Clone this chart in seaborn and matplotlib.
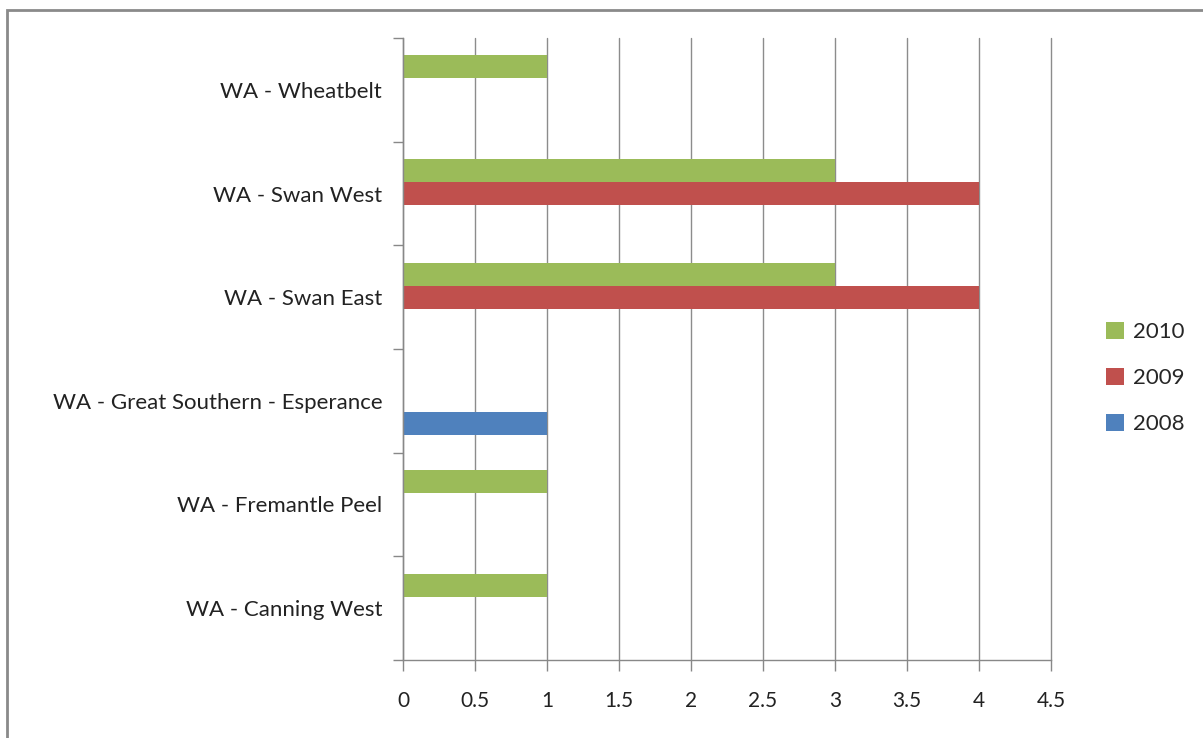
import matplotlib
matplotlib.use("Agg")
import matplotlib.pyplot as plt
import seaborn as sns
import pandas as pd
from matplotlib.patches import Rectangle, Patch

categories = ["WA - Wheatbelt", "WA - Swan West", "WA - Swan East",
              "WA - Great Southern - Esperance", "WA - Fremantle Peel",
              "WA - Canning West"]
series = ["2010", "2009", "2008"]
values_2010 = [1, 3, 3, 0, 1, 1]
values_2009 = [0, 4, 4, 0, 0, 0]
values_2008 = [0, 0, 0, 1, 0, 0]
colors = {"2010": "#9BBB59", "2009": "#C0504D", "2008": "#4F81BD"}
x_ticks = [0, 0.5, 1, 1.5, 2, 2.5, 3, 3.5, 4, 4.5]
x_tick_labels = ["0", "0.5", "1", "1.5", "2", "2.5", "3", "3.5", "4", "4.5"]

rows = []
for name, vals in zip(series, [values_2010, values_2009, values_2008]):
    for c, v in zip(categories, vals):
        rows.append({"category": c, "year": name, "value": v})
df = pd.DataFrame(rows)

sns.set_theme(style="white")
plt.rcParams["font.family"] = ["Lato", "DejaVu Sans"]

fig = plt.figure(figsize=(12.03, 7.38), dpi=100)
ax = fig.add_axes([403/1203, 1 - 660/738, (1051-403)/1203, (660-38)/738])

sns.barplot(data=df, y="category", x="value", hue="year", order=categories,
            hue_order=series, palette=colors, orient="h", width=0.667,
            linewidth=0, saturation=1, gap=0, ax=ax, legend=False)

ax.set_xlim(0, 4.5)
ax.set_ylim(len(categories) - 0.5, -0.5)
ax.set_xticks(x_ticks)
ax.set_xticklabels(x_tick_labels, fontsize=15, color="#222222")
ax.set_yticks([i - 0.5 for i in range(len(categories) + 1)], minor=False)
ax.set_yticklabels([])
ax.set_yticks(range(len(categories)), minor=True)
ax.set_yticklabels(categories, minor=True, fontsize=16, color="#222222")
ax.tick_params(axis="y", which="major", length=7, width=1, color="#888888", left=True, direction="out")
ax.tick_params(axis="y", which="minor", length=0, pad=15)
ax.tick_params(axis="x", length=8, width=1, color="#888888", bottom=True, direction="out", pad=14)
ax.set_xlabel("")
ax.set_ylabel("")
ax.grid(axis="x", color="#8c8c8c", linewidth=1)
ax.grid(axis="y", visible=False)
for gl in ax.get_xgridlines():
    gl.set_clip_on(False)
ax.set_axisbelow(True)
for s in ["top", "right"]:
    ax.spines[s].set_visible(False)
for s in ["left", "bottom"]:
    ax.spines[s].set_visible(True)
    ax.spines[s].set_color("#888888")
    ax.spines[s].set_linewidth(1)

handles = [Patch(facecolor=colors[s], edgecolor="none") for s in series]
fig.legend(handles, series, loc="upper left", bbox_to_anchor=(1086/1203, 1 - 302/738),
           frameon=False, fontsize=16, handlelength=0.8, handleheight=0.8,
           handletextpad=0.4, labelspacing=1.15)

fig.patches.append(Rectangle((7/1203, -0.05), 1.2, 1 - 10/738 + 0.05,
                             transform=fig.transFigure, fill=False,
                             edgecolor="#8a8a8a", linewidth=2, zorder=10))

fig.savefig("out.png", dpi=100, facecolor="white")
